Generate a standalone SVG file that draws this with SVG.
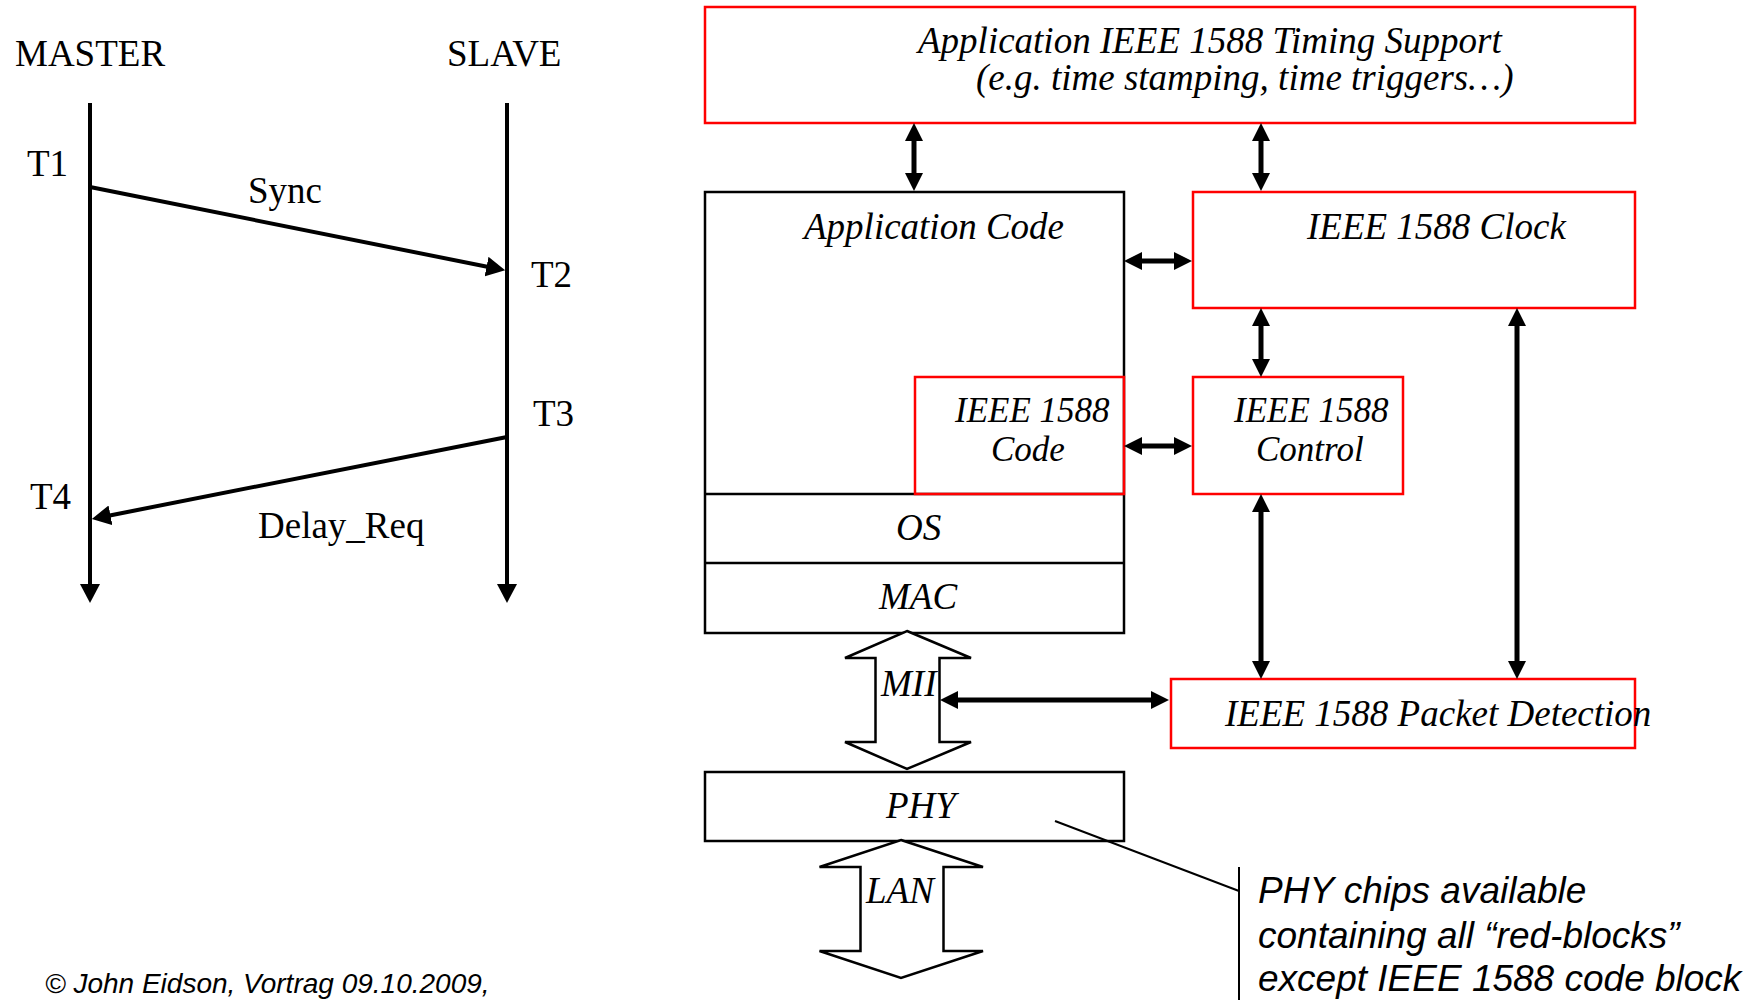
<svg xmlns="http://www.w3.org/2000/svg" width="1758" height="1000" viewBox="0 0 1758 1000">
<style>
.serif{font-family:"Liberation Serif","Times New Roman",serif;font-size:37px;fill:#000}
.it{font-family:"Liberation Serif","Times New Roman",serif;font-style:italic;font-size:37px;fill:#000}
.it2{font-family:"Liberation Serif","Times New Roman",serif;font-style:italic;font-size:35px;fill:#000}
.note{font-family:"Liberation Sans",Arial,sans-serif;font-style:italic;font-size:37px;fill:#000}
.foot{font-family:"Liberation Sans",Arial,sans-serif;font-style:italic;font-size:28px;fill:#000}
.red{fill:none;stroke:#ff0000;stroke-width:2.5}
.blk{fill:none;stroke:#000;stroke-width:2.5}
.seq{stroke:#000;stroke-width:4;fill:none}
.conn{stroke:#000;stroke-width:5;fill:none}
.fat{fill:#fff;stroke:#000;stroke-width:2.5;stroke-linejoin:miter}
.thin{stroke:#000;stroke-width:2;fill:none}
</style>
<defs>
<marker id="seqHead" markerUnits="userSpaceOnUse" markerWidth="19" markerHeight="20" viewBox="0 0 19 20" refX="2" refY="10" orient="auto-start-reverse">
<path d="M0,0 L19,10 L0,20 z" fill="#000"/>
</marker>
<marker id="head" markerUnits="userSpaceOnUse" markerWidth="18" markerHeight="18" viewBox="0 0 18 18" refX="1" refY="9" orient="auto-start-reverse">
<path d="M0,0 L18,9 L0,18 z" fill="#000"/>
</marker>
</defs>
<rect x="0" y="0" width="1758" height="1000" fill="#fff"/>

<g id="master">
<text class="serif" x="15" y="66">MASTER</text>
<line class="seq" x1="90" y1="103" x2="90" y2="586" marker-end="url(#seqHead)"/>
<text class="serif" x="27" y="176">T1</text>
<text class="serif" x="30" y="509">T4</text>
</g>
<g id="slave">
<text class="serif" x="447" y="66">SLAVE</text>
<line class="seq" x1="507" y1="103" x2="507" y2="586" marker-end="url(#seqHead)"/>
<text class="serif" x="531" y="287">T2</text>
<text class="serif" x="533" y="426">T3</text>
</g>

<g id="top-box">
<rect class="red" x="705" y="7" width="930" height="116"/>
<text class="it" x="918" y="53">Application IEEE 1588 Timing Support</text>
<text class="it" x="976" y="90">(e.g. time stamping, time triggers…)</text>
</g>
<g id="app-code">
<rect class="blk" x="705" y="192" width="419" height="441"/>
<line class="blk" x1="705" y1="494" x2="1124" y2="494"/>
<line class="blk" x1="705" y1="563" x2="1124" y2="563"/>
<text class="it" x="804" y="239">Application Code</text>
</g>
<g id="os"><text class="it" x="896" y="540">OS</text></g>
<g id="mac"><text class="it" x="879" y="609">MAC</text></g>
<g id="code">
<rect class="red" x="915" y="377" width="209" height="117"/>
<text class="it2" x="955" y="422">IEEE 1588</text>
<text class="it2" x="991" y="461">Code</text>
</g>
<g id="clock">
<rect class="red" x="1193" y="192" width="442" height="116"/>
<text class="it" x="1307" y="239">IEEE 1588 Clock</text>
</g>
<g id="control">
<rect class="red" x="1193" y="377" width="210" height="117"/>
<text class="it2" x="1234" y="422">IEEE 1588</text>
<text class="it2" x="1256" y="461">Control</text>
</g>
<g id="packet">
<rect class="red" x="1171" y="679" width="464" height="69"/>
<text class="it" x="1225" y="726">IEEE 1588 Packet Detection</text>
</g>
<g id="phy">
<rect class="blk" x="705" y="772" width="419" height="69"/>
<text class="it" x="886" y="818">PHY</text>
</g>
<g id="mii">
<polygon class="fat" points="907,631 971,658 939.5,658 939.5,742 971,742 907,769 845,742 875.5,742 875.5,658 845,658"/>
<text class="it" x="881" y="696">MII</text>
</g>
<g id="lan">
<polygon class="fat" points="901,840 983,867 943.5,867 943.5,951 983,951 901,978 819.5,951 860.5,951 860.5,867 819.5,867"/>
<text class="it" x="866" y="903">LAN</text>
</g>
<g id="note">
<line class="thin" x1="1055" y1="821" x2="1239" y2="891"/>
<line class="thin" x1="1239" y1="867" x2="1239" y2="1000"/>
<text class="note" x="1258" y="903">PHY chips available</text>
<text class="note" x="1258" y="948">containing all “red-blocks”</text>
<text class="note" x="1258" y="991">except IEEE 1588 code block</text>
</g>
<g id="footer">
<text class="foot" x="45" y="993">© John Eidson, Vortrag 09.10.2009,</text>
</g>

<g id="connectors">
<line class="seq" x1="90" y1="187" x2="488.5" y2="267" marker-end="url(#seqHead)"/>
<text class="serif" x="248" y="203">Sync</text>
<line class="seq" x1="507" y1="437" x2="108.5" y2="515.7" marker-end="url(#seqHead)"/>
<text class="serif" x="258" y="538">Delay_Req</text>
<line class="conn" x1="914" y1="140" x2="914" y2="174" marker-start="url(#head)" marker-end="url(#head)"/>
<line class="conn" x1="1261" y1="140" x2="1261" y2="174" marker-start="url(#head)" marker-end="url(#head)"/>
<line class="conn" x1="1141" y1="261" x2="1175" y2="261" marker-start="url(#head)" marker-end="url(#head)"/>
<line class="conn" x1="1261" y1="325" x2="1261" y2="360" marker-start="url(#head)" marker-end="url(#head)"/>
<line class="conn" x1="1141" y1="446" x2="1175" y2="446" marker-start="url(#head)" marker-end="url(#head)"/>
<line class="conn" x1="1261" y1="511" x2="1261" y2="662" marker-start="url(#head)" marker-end="url(#head)"/>
<line class="conn" x1="1517" y1="325" x2="1517" y2="662" marker-start="url(#head)" marker-end="url(#head)"/>
<line class="conn" x1="957" y1="700" x2="1152" y2="700" marker-start="url(#head)" marker-end="url(#head)"/>
</g>
</svg>
